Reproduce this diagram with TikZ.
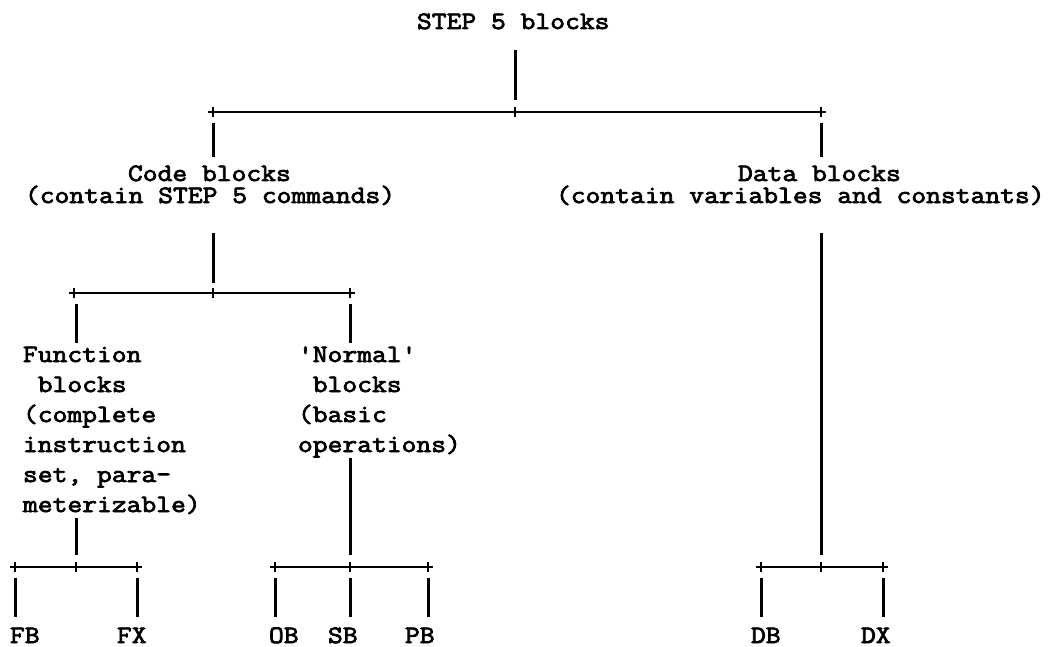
\documentclass[tikz,border=0pt]{standalone}
\usepackage{fontspec}
\newfontfamily\tw{Latin Modern Mono}[FakeStretch=1.15,FakeBold=3]
\begin{document}
\begin{tikzpicture}[x=1pt,y=-1pt,
  lbl/.style={anchor=base west,inner sep=0pt,outer sep=0pt,font=\tw\fontsize{25}{30}\selectfont},
  two/.style={lbl,align=left,font=\tw\fontsize{25}{22}\selectfont},
  stem/.style={line width=3pt},
  bar/.style={line width=2pt},
  tick/.style={line width=2.2pt}]
\useasboundingbox (0,0) rectangle (1059,647);
% texts
\node[lbl] (top) at (417,29) {STEP 5 blocks};
\node[two] (code) at (25,203) {\hspace*{103pt}Code blocks\\(contain STEP 5 commands)};
\node[two] (data) at (556,203) {\hspace*{182pt}Data blocks\\(contain variables and constants)};
\node[lbl] (fn1) at (23,362) {Function};
\node[lbl] (fn2) at (23,392) {\ blocks};
\node[lbl] (fn3) at (23,422) {(complete};
\node[lbl] (fn4) at (23,452) {instruction};
\node[lbl] (fn5) at (23,482) {set, para—};
\node[lbl] (fn6) at (23,512) {meterizable)};
\node[lbl] (nb1) at (298,362) {'Normal'};
\node[lbl] (nb2) at (298,392) {\ blocks};
\node[lbl] (nb3) at (298,422) {(basic};
\node[lbl] (nb4) at (298,452) {operations)};
\node[lbl] (FB) at (10,643) {FB};
\node[lbl] (FX) at (117,643) {FX};
\node[lbl] (OB) at (269,643) {OB};
\node[lbl] (SB) at (328,643) {SB};
\node[lbl] (PB) at (405,643) {PB};
\node[lbl] (DB) at (751,643) {DB};
\node[lbl] (DX) at (861,643) {DX};
% level 1
\coordinate (j0) at (515,112);
\coordinate (jc) at (213,112);
\coordinate (jd) at (821,112);
\draw[stem] (515,50) -- (515,100);
\draw[bar] ([xshift=-5pt]jc) -- ([xshift=5pt]jd);
\foreach \p in {j0,jc,jd} \draw[tick] ([yshift=-5pt]\p) -- ([yshift=5pt]\p);
\draw[stem] (213,123) -- (213,157);
\draw[stem] (821,123) -- (821,157);
% level 2 (code)
\coordinate (k0) at (213,293);
\coordinate (kf) at (74,293);
\coordinate (kn) at (350,293);
\draw[stem] (213,233) -- (213,283);
\draw[bar] ([xshift=-5pt]kf) -- ([xshift=5pt]kn);
\foreach \p in {k0,kf,kn} \draw[tick] ([yshift=-5pt]\p) -- ([yshift=5pt]\p);
\draw[stem] (76,304) -- (76,343);
\draw[stem] (350,304) -- (350,343);
% level 3 function
\coordinate (f0) at (76,567);
\coordinate (fa) at (15,567);
\coordinate (fb) at (137,567);
\draw[stem] (76,518) -- (76,555);
\draw[bar] ([xshift=-5pt]fa) -- ([xshift=5pt]fb);
\foreach \p in {f0,fa,fb} \draw[tick] ([yshift=-5pt]\p) -- ([yshift=5pt]\p);
\draw[stem] (15,578) -- (15,617);
\draw[stem] (137,578) -- (137,617);
% level 3 normal
\coordinate (n0) at (350,567);
\coordinate (na) at (275,567);
\coordinate (nc) at (428,567);
\draw[stem] (350,458) -- (350,555);
\draw[bar] ([xshift=-5pt]na) -- ([xshift=5pt]nc);
\foreach \p in {n0,na,nc} \draw[tick] ([yshift=-5pt]\p) -- ([yshift=5pt]\p);
\draw[stem] (275,578) -- (275,617);
\draw[stem] (350,578) -- (350,617);
\draw[stem] (428,578) -- (428,617);
% level 3 data
\coordinate (d0) at (821,567);
\coordinate (da) at (761,567);
\coordinate (db) at (883,567);
\draw[stem] (821,233) -- (821,555);
\draw[bar] ([xshift=-5pt]da) -- ([xshift=5pt]db);
\foreach \p in {d0,da,db} \draw[tick] ([yshift=-5pt]\p) -- ([yshift=5pt]\p);
\draw[stem] (761,578) -- (761,617);
\draw[stem] (883,578) -- (883,617);
\end{tikzpicture}
\end{document}
